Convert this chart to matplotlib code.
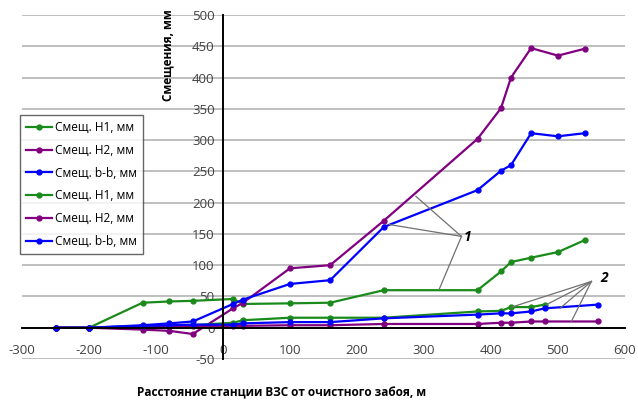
import matplotlib
matplotlib.use("Agg")
import matplotlib.pyplot as plt

plt.rcParams['font.family'] = ['Open Sans', 'DejaVu Sans']
plt.rcParams['axes.unicode_minus'] = False

# Set 1 (upper curves)
x1 = [-250, -200, -120, -80, -45, 15, 30, 100, 160, 240, 380, 415, 430, 460, 500, 540]
h1_1 = [0, 0, 40, 42, 43, 46, 38, 39, 40, 60, 60, 90, 105, 112, 121, 140]
h2_1 = [0, 0, -3, -5, -10, 31, 40, 95, 100, 171, 302, 351, 400, 447, 435, 446]
bb_1 = [0, 0, 4, 7, 10, 38, 45, 70, 76, 161, 220, 251, 260, 311, 306, 311]

# Set 2 (lower curves)
x2 = [-250, -200, -120, -80, -45, 15, 30, 100, 160, 240, 380, 415, 430, 460, 480, 560]
h1_2 = [0, 0, 2, 3, 4, 8, 12, 16, 16, 16, 26, 27, 33, 33, 37, None]
h2_2 = [0, 0, 1, 2, 3, 3, 3, 4, 4, 6, 6, 8, 8, 10, 10, 10]
bb_2 = [0, 0, 3, 4, 5, 5, 7, 9, 9, 15, 21, 23, 23, 26, 31, 37]

labels = ['Смещ. Н1, мм', 'Смещ. Н2, мм', 'Смещ. b-b, мм']
colors = ['#1a8a1a', '#800080', '#0000ff']

xticks = [-300, -200, -100, 0, 100, 200, 300, 400, 500, 600]
yticks = [-50, 0, 50, 100, 150, 200, 250, 300, 350, 400, 450, 500]

fig = plt.figure(figsize=(6.38, 4.01), dpi=100)
ax = fig.add_axes([0.0345, 0.1047, 0.945, 0.858])

for ys, c, lab in zip([h1_1, h2_1, bb_1], colors, labels):
    ax.plot(x1, ys, color=c, lw=1.6, marker='o', ms=3.5, label=lab)
for ys, c, lab in zip([h1_2, h2_2, bb_2], colors, labels):
    pts = [(a, b) for a, b in zip(x2, ys) if b is not None]
    ax.plot([p[0] for p in pts], [p[1] for p in pts], color=c, lw=1.6,
            marker='o', ms=3.5, label=lab)

ax.set_xlim(-300, 600)
ax.set_ylim(-50, 500)
ax.set_xticks(xticks)
ax.set_yticks(yticks)
ax.yaxis.grid(True, color='#b4b4b4', lw=1.2)
ax.set_axisbelow(True)

for s in ['top', 'right']:
    ax.spines[s].set_visible(False)
ax.spines['left'].set_position(('data', 0))
ax.spines['bottom'].set_position(('data', 0))
ax.spines['left'].set_linewidth(1.4)
ax.spines['bottom'].set_linewidth(1.4)
ax.tick_params(axis='both', length=0, labelsize=9.5, colors='#404040')
ax.tick_params(axis='x', pad=12)
ax.tick_params(axis='y', pad=6)

# annotations for curve groups
ann = dict(color='#707070', lw=0.9)
for px, py in [(288, 210), (248, 165), (323, 62)]:
    ax.plot([356, px], [146, py], **ann)
ax.text(360, 145, '1', fontsize=10, fontweight='bold', style='italic', va='center')
for px, py in [(431, 33), (483, 37), (503, 31), (520, 10)]:
    ax.plot([550, px], [74, py], **ann)
ax.text(563, 79, '2', fontsize=10, fontweight='bold', style='italic', va='center')

fig.text(0.263, 0.863, 'Смещения, мм', rotation=90, ha='center', va='center',
         fontsize=8.5, fontweight='bold')
fig.text(0.442, 0.02, 'Расстояние станции ВЗС от очистного забоя, м',
         ha='center', va='center', fontsize=8.5, fontweight='bold')

leg = ax.legend(loc='upper left', bbox_to_anchor=(20 / 638, 1 - 115 / 401),
                bbox_transform=fig.transFigure, fontsize=8.6, frameon=True,
                fancybox=False, edgecolor='#404040', handlelength=2.2,
                handletextpad=0.2, borderpad=0.5, labelspacing=0.82,
                borderaxespad=0)
leg.get_frame().set_linewidth(1.0)

fig.savefig('out.png', dpi=100)
